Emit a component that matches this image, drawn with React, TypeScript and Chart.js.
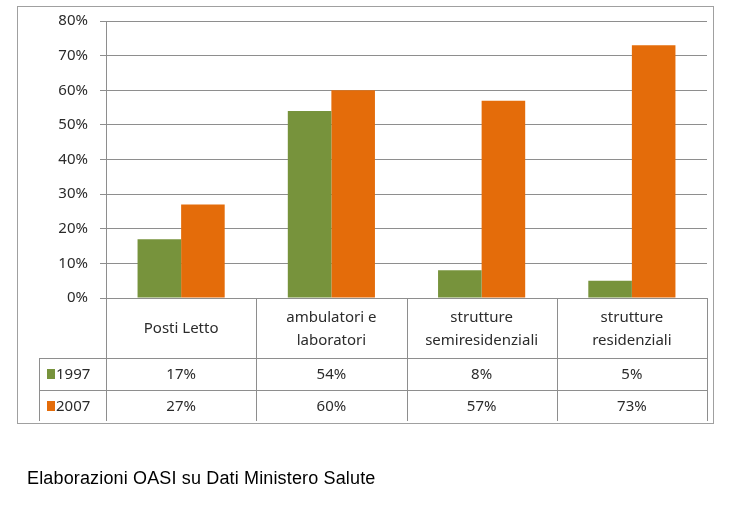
import React, { useEffect, useRef } from "react";
import { Chart, registerables } from "chart.js";

Chart.register(...registerables);

const categories = ["Posti Letto", "ambulatori e\nlaboratori", "strutture\nsemiresidenziali", "strutture\nresidenziali"];
const seriesNames = ["1997", "2007"];
const values1997 = [17, 54, 8, 5];
const values2007 = [27, 60, 57, 73];
const seriesColors = ["#77933C", "#E46C0A"];
const footerText = "Elaborazioni OASI su Dati Ministero Salute";

const FONT = "'Noto Sans', sans-serif";
const FONT_SIZE = 15;
const TEXT_COLOR = "#2b2b2b";
const GRID = "#8e8e8e";

const tablePlugin = {
  id: "dataTable",
  beforeDraw(chart: any) {
    const { ctx } = chart;
    ctx.save();
    ctx.strokeStyle = "#a0a0a0";
    ctx.lineWidth = 1;
    ctx.strokeRect(17.5, 6.5, 696, 417);
    ctx.restore();
  },
  afterDraw(chart: any) {
    const { ctx, chartArea, scales } = chart;
    const xs = scales.x;
    const n = categories.length;
    const catW = (chartArea.right - chartArea.left) / n;
    const top = Math.round(chartArea.bottom);
    const labelBottom = top + 60;
    const row1Bottom = labelBottom + 32;
    const tableBottom = row1Bottom + 31;
    const legendLeft = 39;
    const datasets = chart.data.datasets;

    ctx.save();
    ctx.strokeStyle = GRID;
    ctx.lineWidth = 1;
    ctx.beginPath();
    ctx.moveTo(legendLeft, labelBottom + 0.5);
    ctx.lineTo(chartArea.right, labelBottom + 0.5);
    ctx.moveTo(legendLeft, row1Bottom + 0.5);
    ctx.lineTo(chartArea.right, row1Bottom + 0.5);
    ctx.moveTo(legendLeft + 0.5, labelBottom);
    ctx.lineTo(legendLeft + 0.5, tableBottom);
    for (let i = 0; i <= n; i++) {
      const bx = Math.round(xs.getPixelForValue(Math.min(i, n - 1)) + (i === n ? catW / 2 : -catW / 2)) + 0.5;
      ctx.moveTo(bx, top);
      ctx.lineTo(bx, tableBottom);
    }
    ctx.stroke();

    ctx.fillStyle = TEXT_COLOR;
    ctx.font = `${FONT_SIZE}px ${FONT}`;
    ctx.textAlign = "center";
    ctx.textBaseline = "middle";
    const labelMid = (top + labelBottom) / 2 + 1;
    chart.data.labels.forEach((lab: string, i: number) => {
      const cx = xs.getPixelForValue(i);
      const lines = lab.split("\n");
      const lh = 23;
      lines.forEach((ln, j) => {
        ctx.fillText(ln, cx, labelMid + (j - (lines.length - 1) / 2) * lh);
      });
    });

    const rowMids = [(labelBottom + row1Bottom) / 2 + 1, (row1Bottom + tableBottom) / 2 + 1];
    datasets.forEach((ds: any, r: number) => {
      const y = rowMids[r];
      ds.data.forEach((v: number, i: number) => {
        ctx.textAlign = "center";
        ctx.fillText(v + "%", xs.getPixelForValue(i), y);
      });
      ctx.fillStyle = ds.backgroundColor;
      ctx.fillRect(47, Math.round(y) - 6, 8, 10);
      ctx.fillStyle = TEXT_COLOR;
      ctx.textAlign = "left";
      ctx.fillText(ds.label, 56, y);
    });
    ctx.restore();
  },
};

export default function App() {
  const ref = useRef<HTMLCanvasElement>(null);
  useEffect(() => {
    if (!ref.current) return;
    const chart = new Chart(ref.current, {
      type: "bar",
      data: {
        labels: categories,
        datasets: [
          { label: seriesNames[0], data: values1997, backgroundColor: seriesColors[0], categoryPercentage: 0.58, barPercentage: 1 },
          { label: seriesNames[1], data: values2007, backgroundColor: seriesColors[1], categoryPercentage: 0.58, barPercentage: 1 },
        ],
      },
      options: {
        responsive: false,
        animation: false,
        layout: { padding: { left: 0, top: 8, right: 26, bottom: 207 } },
        plugins: { legend: { display: false }, tooltip: { enabled: false } },
        scales: {
          x: { display: false },
          y: {
            min: 0,
            max: 80,
            afterFit: (s: any) => { s.width = 106; },
            ticks: {
              stepSize: 10,
              padding: 12,
              color: TEXT_COLOR,
              font: { family: FONT, size: FONT_SIZE },
              callback: (v: any) => v + "%",
            },
            grid: { color: GRID, tickLength: 6, drawTicks: true },
            border: { display: true, color: GRID },
          },
        },
      },
      plugins: [tablePlugin],
    });
    return () => chart.destroy();
  }, []);
  return (
    <div style={{ position: "absolute", left: 0, top: 0, width: 733, height: 505, background: "#fff" }}>
      <canvas ref={ref} width={733} height={505} style={{ position: "absolute", left: 0, top: 0 }} />
      <div
        style={{
          position: "absolute",
          left: 27,
          top: 467,
          fontFamily: "'Liberation Sans', Arial, sans-serif",
          fontSize: 18,
          letterSpacing: "0.15px",
          lineHeight: "22px",
          color: "#000",
          whiteSpace: "nowrap",
        }}
      >
        {footerText}
      </div>
    </div>
  );
}
